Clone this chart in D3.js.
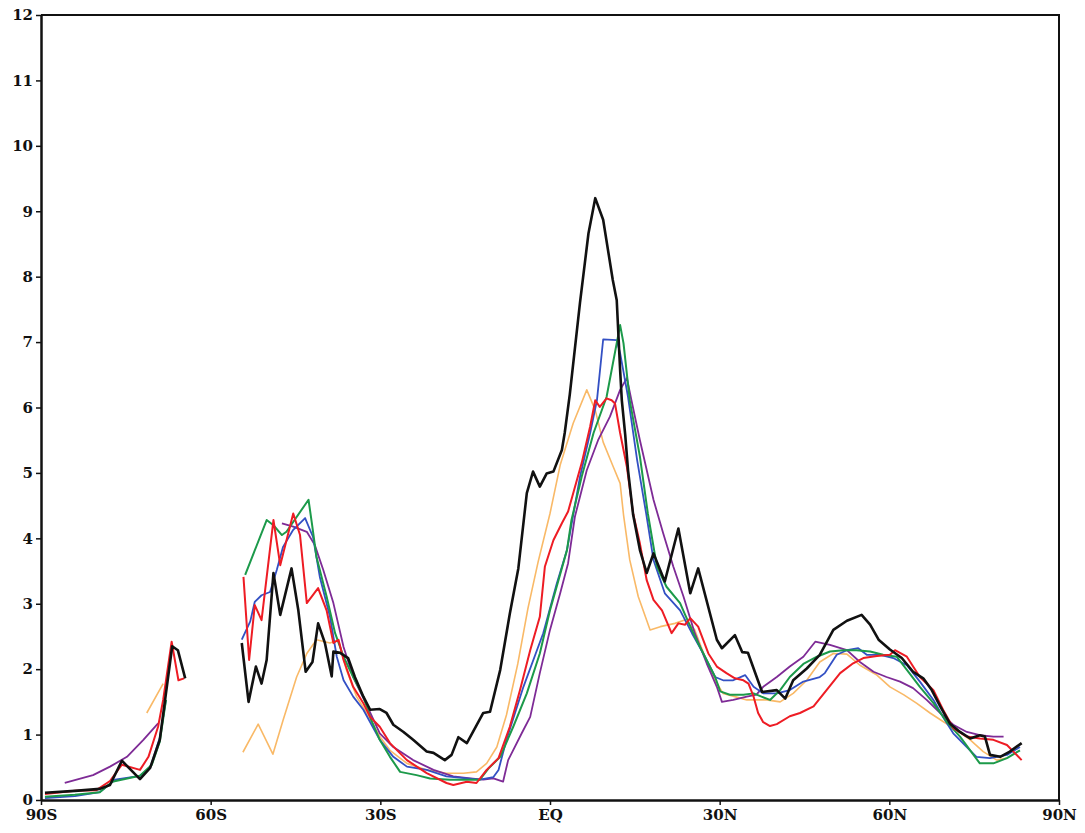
<!DOCTYPE html>
<html>
<head>
<meta charset="utf-8">
<script src="https://cdn.jsdelivr.net/npm/d3@7"></script>
<style>
  body { margin: 0; background: #fff; overflow: hidden; }
  svg { display: block; }
  .axis text { font-family: "DejaVu Serif", serif; font-weight: bold; font-size: 15px; fill: #111; }
</style>
</head>
<body>
<svg></svg>
<script>
const w = 1085
const h = 833

// tick labels
const xTicks = [-90, -60, -30, 0, 30, 60, 90]
const xTickLabels = ['90S', '60S', '30S', 'EQ', '30N', '60N', '90N']
const yTicks = d3.range(0, 13)

// series: [latitude, value], null = gap in the data
const black = [
  [-89.3,0.11],[-84.0,0.14],[-79.6,0.17],[-77.8,0.23],[-75.7,0.60],[-72.5,0.32],[-70.7,0.49],[-69.0,0.92],[-66.8,2.35],[-65.8,2.29],[-64.5,1.86], null,
  [-54.5,2.40],[-53.3,1.50],[-52.0,2.04],[-51.0,1.78],[-50.1,2.14],[-48.9,3.47],[-47.7,2.83],[-45.7,3.54],[-44.5,2.90],[-43.2,1.96],[-42.0,2.11],[-41.0,2.70],
  [-39.8,2.40],[-38.6,1.89],[-38.3,2.27],[-37.1,2.25],[-35.7,2.17],[-34.5,1.88],[-33.0,1.58],[-31.8,1.38],[-30.1,1.39],[-28.9,1.33],[-27.7,1.15],[-25.9,1.04],
  [-24.2,0.92],[-21.8,0.74],[-20.6,0.72],[-18.6,0.61],[-17.4,0.69],[-16.2,0.96],[-14.7,0.87],[-11.8,1.33],[-10.6,1.35],[-8.8,1.99],[-7.1,2.85],[-5.6,3.54],
  [-4.1,4.69],[-3.0,5.02],[-1.8,4.79],[-0.6,4.99],[0.6,5.02],[2.1,5.35],[2.6,5.61],[3.5,6.2],[4.4,6.9],[5.3,7.6],[6.8,8.66],[8.0,9.20],[9.4,8.87],
  [11.1,7.95],[11.8,7.64],[12.4,6.57],[12.7,6.11],[13.3,5.58],[13.8,5.04],[14.7,4.36],[15.9,3.82],[17.1,3.47],[18.3,3.77],[20.3,3.34],[22.7,4.15],[24.8,3.16],
  [26.2,3.54],[29.5,2.45],[30.4,2.32],[32.7,2.52],[34.0,2.26],[35.0,2.25],[37.5,1.65],[40.1,1.68],[41.6,1.55],[43.0,1.83],[45.4,2.01],[47.7,2.22],[50.1,2.60],
  [52.5,2.74],[55.1,2.83],[56.6,2.68],[58.1,2.45],[60.1,2.30],[62.2,2.17],[64.2,1.96],[66.0,1.86],[67.5,1.68],[69.0,1.43],[70.7,1.17],[72.5,1.04],[74.3,0.94],
  [76.0,0.99],[76.9,0.97],[77.8,0.69],[79.6,0.66],[81.3,0.74],[83.4,0.87]
]
const red = [
  [-89.3,0.09],[-84.0,0.14],[-80.2,0.15],[-77.8,0.29],[-75.7,0.54],[-72.5,0.46],[-71.0,0.66],[-69.3,1.12],[-68.4,1.53],[-66.9,2.42],[-65.7,1.83],[-64.7,1.86], null,
  [-54.2,3.41],[-53.2,2.14],[-52.2,2.98],[-51.0,2.75],[-48.9,4.28],[-47.7,3.59],[-45.4,4.38],[-44.2,4.05],[-43.0,3.01],[-41.0,3.24],[-39.5,2.90],[-38.3,2.40],
  [-37.4,2.45],[-36.5,2.14],[-34.8,1.73],[-33.0,1.48],[-31.8,1.27],[-30.1,1.12],[-28.3,0.87],[-25.3,0.61],[-21.8,0.41],[-18.3,0.26],[-17.1,0.23],[-14.7,0.28],
  [-13.0,0.26],[-11.2,0.46],[-9.1,0.64],[-7.1,1.12],[-5.3,1.68],[-3.5,2.29],[-1.8,2.80],[-0.9,3.57],[0.6,3.97],[2.1,4.23],[3.2,4.41],[5.6,5.15],[7.1,5.71],
  [8.0,6.11],[8.8,6.01],[10.0,6.14],[10.9,6.11],[11.5,6.06],[12.4,5.61],[13.6,5.09],[14.7,4.38],[15.9,3.92],[17.1,3.36],[18.3,3.06],[19.8,2.90],[21.5,2.55],
  [22.7,2.70],[23.9,2.68],[24.8,2.78],[26.2,2.65],[28.0,2.24],[29.5,2.04],[31.2,1.94],[32.7,1.86],[34.2,1.83],[35.1,1.78],[36.0,1.58],[36.8,1.33],[37.7,1.19],
  [38.9,1.13],[40.1,1.16],[42.4,1.28],[44.2,1.33],[46.6,1.43],[48.9,1.68],[51.3,1.94],[53.6,2.09],[55.4,2.17],[57.8,2.20],[60.1,2.22],[61.0,2.29],[63.1,2.19],
  [65.4,1.88],[67.8,1.68],[69.5,1.38],[71.3,1.10],[73.7,0.97],[76.0,0.94],[78.4,0.92],[80.8,0.84],[83.4,0.61]
]
const green = [
  [-89.3,0.05],[-84.0,0.08],[-79.6,0.12],[-77.4,0.28],[-72.5,0.37],[-70.4,0.54],[-69.0,0.89],[-67.9,1.53], null,
  [-53.9,3.44],[-50.1,4.28],[-48.9,4.20],[-47.4,4.05],[-46.6,4.10],[-42.7,4.59],[-42.1,4.23],[-41.3,3.72],[-39.5,3.11],[-38.0,2.55],[-36.5,2.19],[-34.8,1.88],
  [-33.0,1.58],[-31.6,1.22],[-30.1,0.92],[-28.3,0.66],[-26.5,0.43],[-23.6,0.38],[-21.2,0.33],[-17.7,0.31],[-14.7,0.31],[-12.4,0.31],[-10.9,0.48],[-8.8,0.66],
  [-6.5,1.12],[-4.1,1.63],[-1.8,2.24],[0.0,2.90],[1.5,3.36],[3.0,3.82],[3.8,4.28],[5.6,4.94],[7.7,5.61],[10.0,6.16],[12.4,7.26],[13.0,6.98],[14.1,6.11],
  [15.9,5.25],[17.3,4.38],[18.9,3.57],[20.6,3.26],[23.0,3.01],[23.9,2.83],[25.6,2.50],[27.4,2.19],[29.2,1.88],[30.1,1.66],[31.8,1.61],[34.2,1.61],[36.0,1.63],
  [37.4,1.58],[38.9,1.53],[40.7,1.68],[42.4,1.88],[44.8,2.08],[47.2,2.19],[49.5,2.27],[51.9,2.29],[54.2,2.29],[56.6,2.27],[58.9,2.22],[61.3,2.19],[63.1,1.99],
  [65.4,1.73],[67.8,1.48],[70.1,1.20],[72.5,0.97],[74.3,0.76],[76.0,0.56],[78.4,0.56],[80.8,0.64],[83.1,0.76]
]
const blue = [
  [-89.3,0.03],[-84.0,0.06],[-79.6,0.12],[-76.9,0.31],[-72.5,0.37],[-70.7,0.49],[-69.0,0.95],[-67.9,1.53], null,
  [-54.5,2.45],[-53.0,2.73],[-52.2,3.03],[-51.0,3.13],[-49.5,3.18],[-48.3,3.52],[-47.2,3.87],[-45.4,4.13],[-43.3,4.31],[-41.9,4.02],[-40.7,3.41],[-38.9,2.80],
  [-37.7,2.19],[-36.5,1.83],[-34.8,1.58],[-33.0,1.38],[-30.1,0.92],[-27.7,0.66],[-25.3,0.51],[-21.8,0.46],[-18.3,0.36],[-14.7,0.33],[-12.4,0.31],[-10.0,0.35],
  [-9.1,0.46],[-7.7,0.92],[-4.7,1.73],[-1.2,2.55],[1.2,3.31],[3.0,3.82],[5.3,4.94],[7.1,5.61],[8.3,6.11],[9.4,7.04],[11.8,7.03],[12.4,6.83],[13.8,6.16],
  [15.4,5.20],[17.0,4.38],[18.3,3.67],[20.3,3.16],[23.0,2.90],[25.1,2.55],[27.1,2.24],[29.2,1.88],[30.6,1.83],[32.4,1.83],[34.5,1.91],[36.0,1.73],[37.7,1.63],
  [40.1,1.63],[42.4,1.68],[44.8,1.81],[47.7,1.88],[48.6,1.94],[50.7,2.22],[52.5,2.29],[54.5,2.32],[56.0,2.22],[58.4,2.22],[60.7,2.17],[63.1,2.06],[65.4,1.81],
  [67.8,1.53],[69.5,1.27],[71.3,1.02],[73.7,0.81],[75.4,0.66],[77.8,0.64],[80.8,0.69],[83.1,0.81]
]
const purple = [
  [-85.8,0.26],[-80.8,0.38],[-77.8,0.51],[-74.8,0.66],[-71.9,0.92],[-69.3,1.17], null,
  [-47.4,4.23],[-45.4,4.18],[-43.0,4.10],[-41.6,3.90],[-40.1,3.52],[-38.3,3.01],[-36.5,2.34],[-34.8,1.88],[-32.4,1.45],[-30.1,1.02],[-27.7,0.81],[-24.2,0.61],
  [-20.6,0.46],[-17.1,0.36],[-14.1,0.33],[-11.8,0.31],[-10.0,0.33],[-8.3,0.28],[-7.4,0.61],[-5.0,1.02],[-3.5,1.27],[-1.8,1.94],[0.0,2.60],[1.8,3.16],[3.2,3.62],
  [4.4,4.33],[6.5,5.04],[8.5,5.50],[10.6,5.86],[12.4,6.27],[13.6,6.45],[14.4,6.11],[15.9,5.50],[18.3,4.59],[20.0,4.08],[21.8,3.57],[23.6,3.11],[25.6,2.55],
  [27.7,2.09],[29.5,1.73],[30.4,1.50],[32.4,1.53],[34.8,1.58],[36.5,1.61],[37.7,1.73],[40.1,1.88],[42.4,2.04],[44.8,2.19],[46.9,2.42],[49.5,2.37],[52.5,2.29],
  [54.8,2.11],[57.2,1.96],[59.5,1.88],[61.9,1.81],[64.2,1.71],[66.6,1.53],[69.0,1.33],[71.3,1.15],[73.7,1.04],[76.0,0.99],[78.4,0.97],[80.2,0.97]
]
const orange = [
  [-71.3,1.33],[-68.4,1.78], null,
  [-54.3,0.73],[-51.6,1.16],[-49.0,0.70],[-47.2,1.22],[-44.8,1.88],[-43.0,2.24],[-41.3,2.45],[-38.9,2.40],[-37.4,2.45],[-36.0,1.99],[-34.2,1.58],[-32.4,1.33],
  [-30.1,0.97],[-28.3,0.76],[-25.3,0.56],[-21.8,0.46],[-18.3,0.41],[-15.3,0.41],[-13.0,0.43],[-11.2,0.56],[-9.4,0.81],[-7.7,1.30],[-5.7,2.08],[-3.9,2.93],
  [-2.1,3.64],[0.0,4.38],[1.8,5.12],[4.1,5.76],[6.5,6.27],[8.0,5.96],[9.4,5.47],[11.2,5.09],[12.4,4.84],[13.0,4.36],[14.1,3.67],[15.6,3.11],[17.7,2.60],
  [19.5,2.65],[22.1,2.70],[23.8,2.75],[25.6,2.60],[27.4,2.19],[29.2,1.83],[30.6,1.63],[32.7,1.58],[34.8,1.53],[38.3,1.53],[40.7,1.50],[43.0,1.63],[45.4,1.83],
  [47.7,2.11],[50.1,2.24],[52.5,2.23],[54.8,2.06],[57.8,1.91],[60.1,1.73],[62.5,1.61],[64.8,1.48],[67.2,1.33],[69.5,1.20],[71.9,1.07],[74.3,0.92],[76.6,0.74],
  [79.0,0.61],[80.8,0.64]
]

// draw order: first in list is underneath
const series = [
  {data: orange, color: '#f9b967', width: 1.6},
  {data: purple, color: '#7e2b96', width: 1.8},
  {data: blue, color: '#3350c4', width: 1.8},
  {data: green, color: '#1c9a4a', width: 2},
  {data: red, color: '#ee1c24', width: 2},
  {data: black, color: '#111', width: 2.6}
]

const svg = d3.select('svg')
  .attr('width', w)
  .attr('height', h)

const margin = {top: 15, right: 26, bottom: 33, left: 41}
const innerWidth = w - margin.left - margin.right
const innerHeight = h - margin.top - margin.bottom

const xScale = d3.scaleLinear()
  .domain([-90, 90])
  .range([0, innerWidth])

const yScale = d3.scaleLinear()
  .domain([0, 12])
  .range([innerHeight, 0])

const g = svg.append('g')
  .attr('transform', `translate(${margin.left}, ${margin.top})`)

const line = d3.line()
  .defined(d => d !== null)
  .x(d => xScale(d[0]))
  .y(d => yScale(d[1]))

g.selectAll('path.series').data(series)
  .enter().append('path')
    .attr('class', 'series')
    .attr('d', s => line(s.data))
    .attr('fill', 'none')
    .attr('stroke', s => s.color)
    .attr('stroke-width', s => s.width)
    .attr('stroke-linejoin', 'round')

// frame top + right
g.append('path')
  .attr('d', `M0,0H${innerWidth}V${innerHeight}`)
  .attr('fill', 'none')
  .attr('stroke', '#111')
  .attr('stroke-width', 2)

const xAxis = d3.axisBottom(xScale)
  .tickValues(xTicks)
  .tickFormat((d, i) => xTickLabels[i])
  .tickSizeInner(5)
  .tickSizeOuter(0)
  .tickPadding(4)

const yAxis = d3.axisLeft(yScale)
  .tickValues(yTicks)
  .tickSizeInner(5)
  .tickSizeOuter(0)
  .tickPadding(3)

const xAxisG = g.append('g')
  .attr('class', 'axis')
  .attr('transform', `translate(0, ${innerHeight})`)
  .call(xAxis)

const yAxisG = g.append('g')
  .attr('class', 'axis')
  .call(yAxis)

g.selectAll('.axis .domain')
  .attr('stroke', '#111')
  .attr('stroke-width', 2.5)
g.selectAll('.axis .tick line')
  .attr('stroke', '#111')
  .attr('stroke-width', 1.5)
</script>
</body>
</html>
